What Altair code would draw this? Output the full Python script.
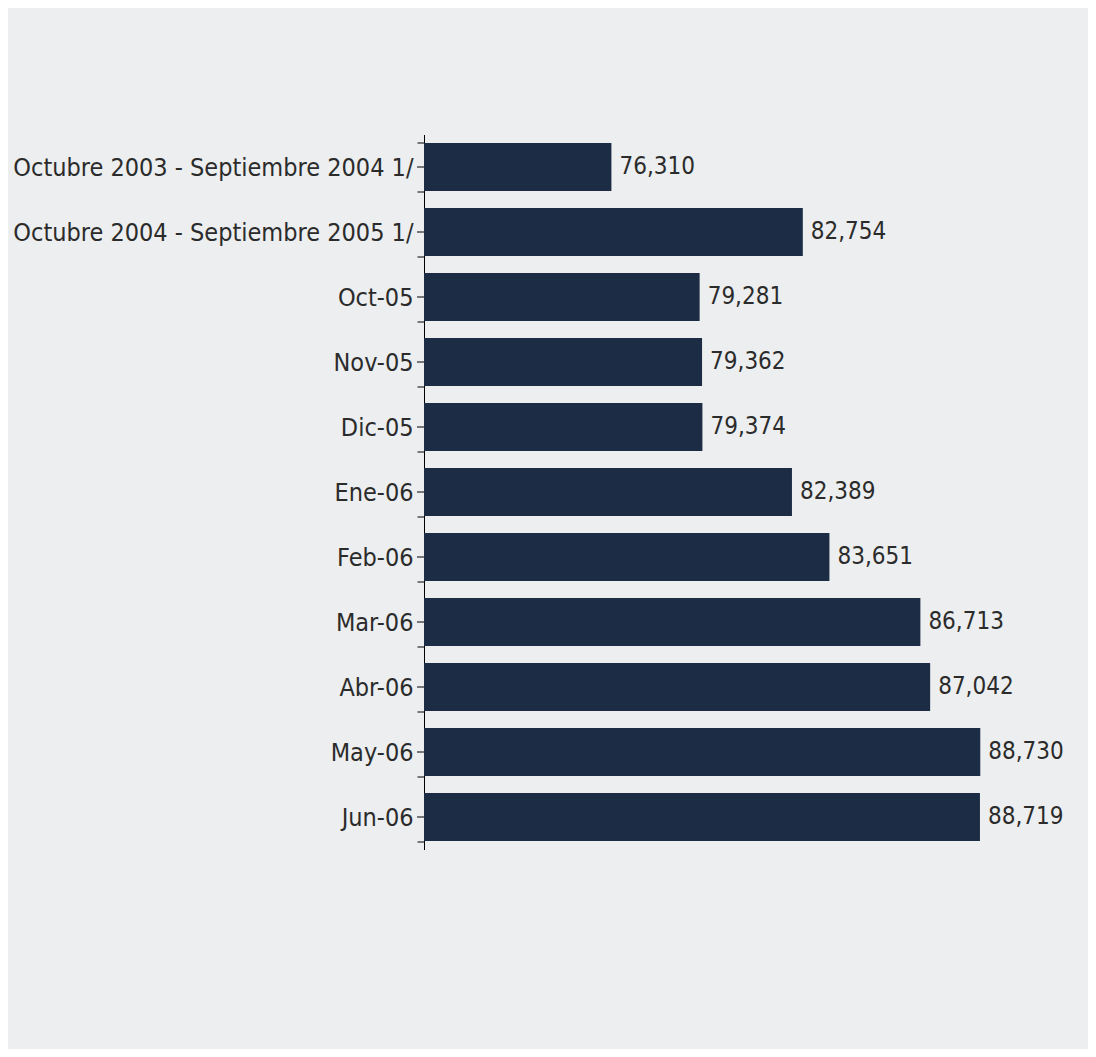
import altair as alt
import pandas as pd

periods = [
    "Octubre 2003 - Septiembre 2004 1/",
    "Octubre 2004 - Septiembre 2005 1/",
    "Oct-05", "Nov-05", "Dic-05", "Ene-06", "Feb-06",
    "Mar-06", "Abr-06", "May-06", "Jun-06",
]
workers = [76310, 82754, 79281, 79362, 79374, 82389, 83651,
           86713, 87042, 88730, 88719]

df = pd.DataFrame({"periodo": periods, "trabajadores": workers})

FONT = "DejaVu Sans Condensed, DejaVu Sans"

y_enc = alt.Y(
    "periodo:N", sort=periods, title=None,
    scale=alt.Scale(paddingInner=0.26, paddingOuter=0.13),
    axis=alt.Axis(
        tickBand="extent", tickSize=7, tickColor="black", domainColor="black",
        labelFont=FONT, labelFontSize=25, labelColor="#2b2b2b",
        labelPadding=4, labelLimit=600,
    ),
)
x_enc = alt.X(
    "trabajadores:Q", axis=None,
    scale=alt.Scale(domain=[70000, 90000], zero=False, nice=False),
)

base = alt.Chart(df)

bars = base.mark_bar(color="#1d2c45", clip=True).encode(y=y_enc, x=x_enc)

labels = base.mark_text(
    align="left", baseline="middle", dx=8, font=FONT, fontSize=24, color="#2b2b2b"
).encode(y=y_enc, x=x_enc, text=alt.Text("trabajadores:Q", format=",d"))

center_ticks = base.mark_rule(color="black", strokeWidth=1).encode(
    y=alt.Y("periodo:N", sort=periods), x=alt.value(-7), x2=alt.value(0)
)

chart = (
    alt.layer(bars, labels, center_ticks)
    .properties(
        width=594, height=715,
        autosize=alt.AutoSizeParams(type="none"),
        padding={"left": 416, "top": 126.5, "right": 70, "bottom": 199.5},
        background="#eceeef",
    )
    .configure_view(stroke=None)
)

chart.save("out.html", embed_options={"renderer": "svg", "actions": False})
